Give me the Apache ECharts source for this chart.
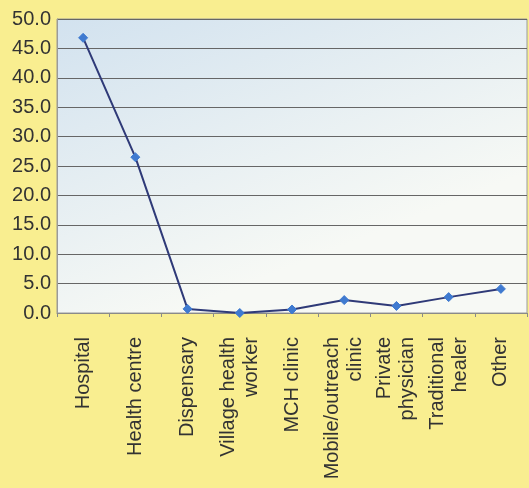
<!DOCTYPE html>
<html>
<head>
<meta charset="utf-8">
<script src="https://cdn.jsdelivr.net/npm/echarts@6/dist/echarts.min.js"></script>
<style>
  html, body { margin: 0; padding: 0; background: #f9ee90; }
  #chart { width: 529px; height: 488px; }
</style>
</head>
<body>
<div id="chart"></div>
<script>
// Where people sought care (percent)
const categories = [
  'Hospital', 'Health centre', 'Dispensary', 'Village health\nworker',
  'MCH clinic', 'Mobile/outreach\nclinic', 'Private\nphysician',
  'Traditional\nhealer', 'Other'
];
const percentValues = [46.8, 26.5, 0.7, 0.0, 0.6, 2.2, 1.2, 2.7, 4.1];
const yMin = 0, yMax = 50, yStep = 5;

const chart = echarts.init(document.getElementById('chart'), null, { renderer: 'canvas' });
chart.setOption({
  backgroundColor: '#f9ee90',
  animation: false,
  grid: {
    left: 57, top: 19, right: 2, bottom: 175,
    show: true,
    borderWidth: 1,
    borderColor: '#9a9a9a',
    backgroundColor: {
      type: 'linear', x: 0, y: 0, x2: 0.25, y2: 1,
      colorStops: [
        { offset: 0, color: '#d2e2ef' },
        { offset: 1, color: '#f7f9f5' }
      ]
    }
  },
  xAxis: {
    type: 'category',
    data: categories,
    boundaryGap: true,
    axisLine: { lineStyle: { color: '#8a8a8a', width: 1 } },
    axisTick: { show: true, length: 4, lineStyle: { color: '#8a8a8a' } },
    axisLabel: {
      rotate: 90,
      margin: 24,
      interval: 0,
      color: '#333333',
      fontFamily: 'Liberation Sans, Arial, sans-serif',
      fontSize: 20,
      lineHeight: 23
    }
  },
  yAxis: {
    type: 'value',
    min: yMin, max: yMax, interval: yStep,
    axisLine: { show: true, lineStyle: { color: '#9a9a9a' } },
    axisTick: { show: false },
    splitLine: { lineStyle: { color: '#666666', width: 1 } },
    axisLabel: {
      formatter: v => v.toFixed(1),
      color: '#333333',
      fontFamily: 'Liberation Sans, Arial, sans-serif',
      fontSize: 20,
      margin: 6
    }
  },
  series: [{
    type: 'line',
    data: percentValues,
    symbol: 'diamond',
    symbolSize: 9,
    lineStyle: { color: '#2f3a78', width: 2 },
    itemStyle: { color: '#3f7ad0', borderColor: '#3f7ad0' }
  }]
});
</script>
</body>
</html>
